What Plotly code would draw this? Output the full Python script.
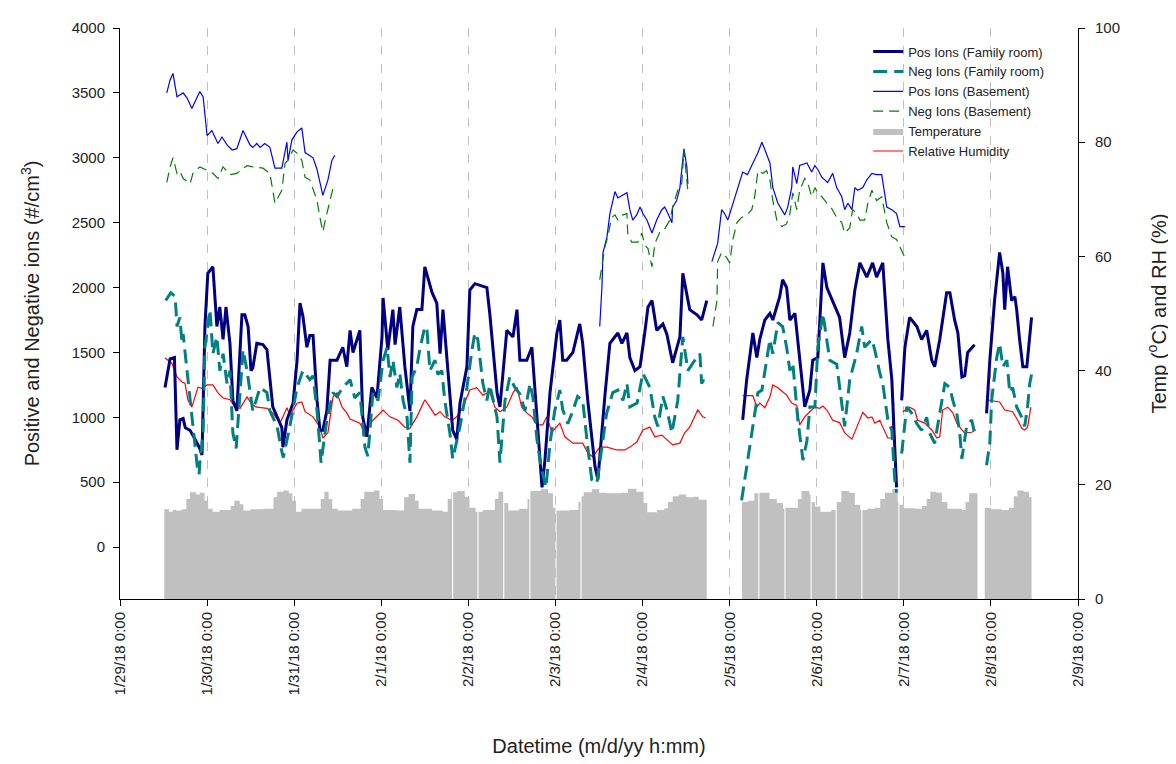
import plotly.graph_objects as go
import pandas as pd

START = pd.Timestamp("2018-01-29 00:00")

# ---------------- data (hours since 1/29/18 0:00, values; None = data gap) ----------------
pos_family_hours = [12.4,13.8,15.0,15.7,16.5,17.4,18.0,19.3,20.7,22.0,22.6,23.4,24.2,25.6,26.7,27.5,28.4,29.2,30.3,31.1,32.2,33.6,34.4,35.3,36.1,36.6,37.7,39.4,40.5,42.1,44.6,44.9,46.0,47.7,48.8,49.6,50.4,51.5,52.3,53.2,54.3,55.1,55.9,57.0,57.9,59.8,61.4,62.5,63.4,64.2,66.1,66.9,68.0,69.4,70.8,72.2,72.5,73.8,75.2,75.8,77.1,78.5,79.9,80.7,81.8,83.2,84.0,84.8,86.0,87.3,88.2,89.0,90.1,91.7,92.8,93.7,95.6,96.4,97.8,101.1,101.9,102.8,103.9,104.7,106.6,108.3,109.4,110.2,112.1,113.5,114.9,116.3,117.1,118.5,120.4,121.2,122.0,123.1,124.8,126.7,127.5,128.9,130.9,131.7,133.6,135.0,137.2,138.3,139.7,140.5,141.9,143.3,144.6,145.5,146.6,147.9,149.6,150.7,152.3,154.3,155.1,156.2,157.0,159.0,160.3,161.7,
                    166.0,
                    171.6,172.7,174.4,175.5,176.3,177.7,179.1,179.9,181.8,182.6,183.7,184.6,186.0,187.3,188.7,190.1,190.9,192.3,193.4,193.7,194.8,196.4,198.3,199.7,201.1,202.5,203.9,205.8,207.4,208.5,210.2,211.6,212.7,213.5,214.0,
                    214.7,
                    215.4,216.3,217.6,219.6,220.9,222.3,223.7,224.5,225.9,227.8,228.7,230.0,230.9,232.0,232.8,233.6,235.5,
                    237.0,
                    238.8,239.7,241.0,242.4,243.3,243.8,244.6,245.7,246.6,247.1,247.9,248.8,249.9,250.7,251.2]
pos_family_vals = [1230,1450,1460,750,980,990,920,900,830,760,710,1700,2110,2160,1700,1850,1600,1850,1570,1130,1050,1790,1790,1700,1360,1380,1570,1560,1520,1080,920,770,980,1110,1440,1880,1780,1540,1630,1630,1130,900,900,1050,1440,1440,1540,1390,1670,1500,1670,1000,850,1230,1150,1620,1920,1520,1830,1560,1850,1390,1050,1700,1830,1830,2160,2080,1960,1880,1490,1830,1460,900,830,1110,1390,1980,2030,2000,1800,1520,1190,1080,1670,1620,1830,1440,1440,1540,1000,460,670,1190,1650,1750,1440,1440,1500,1720,1570,1130,620,520,1160,1570,1650,1570,1650,1460,1360,1390,1650,1850,1900,1670,1720,1640,1420,1620,2110,1930,1830,1790,1750,1900,
                   None,
                   980,1290,1650,1460,1600,1750,1800,1750,1930,2060,2000,1750,1800,1460,1080,1210,1440,1460,2060,2190,2000,1900,1770,1460,1650,1980,2190,2080,2190,2080,2190,1600,1290,770,460,
                   None,
                   1130,1540,1770,1700,1600,1670,1440,1390,1600,1960,1960,1750,1650,1310,1320,1500,1560,
                   None,
                   1030,1440,1900,2270,2110,1830,2160,1900,1930,1830,1600,1390,1390,1600,1770]

neg_family_hours = [12.6,14.0,15.2,15.7,16.5,17.1,17.4,18.5,19.3,20.2,21.3,21.8,22.0,22.9,23.4,24.8,25.6,26.7,27.5,28.4,29.5,30.3,31.1,32.0,33.0,33.9,35.0,35.8,36.6,38.6,40.5,41.3,43.3,44.4,45.0,46.8,48.8,50.4,52.3,53.2,54.3,55.1,55.4,57.0,58.7,59.8,61.4,63.4,64.7,66.1,66.7,67.5,68.3,68.9,69.7,71.1,72.5,73.6,74.4,75.2,76.3,77.1,78.0,79.1,79.9,80.5,81.8,82.6,84.0,84.6,85.4,86.8,87.6,88.7,89.5,90.9,91.7,93.7,95.6,97.0,97.8,98.6,100.0,101.1,101.9,103.9,104.7,106.1,107.4,108.8,110.2,111.6,113.0,113.8,114.9,116.0,117.4,118.5,119.8,121.2,122.0,123.4,124.8,126.1,127.5,128.9,130.0,131.4,132.8,134.1,135.8,137.2,138.6,139.7,140.5,142.5,144.1,146.0,147.4,148.2,149.6,150.7,152.1,152.9,153.7,155.1,156.5,157.9,159.8,160.3,161.2,
                    166.0,
                    171.3,172.7,174.4,175.8,176.9,178.2,179.1,179.9,181.3,182.6,183.7,184.6,185.4,186.8,188.2,189.3,190.1,191.5,192.3,193.7,194.8,195.6,197.5,198.9,199.7,201.1,203.0,204.4,205.2,207.2,208.0,209.4,210.2,211.6,212.7,213.5,214.0,
                    214.7,
                    215.4,216.8,218.2,219.6,220.9,222.3,223.1,224.5,225.9,227.3,228.7,229.5,230.6,231.4,232.0,233.3,234.7,235.5,
                    237.0,
                    238.8,239.7,240.2,241.6,242.4,243.3,244.4,245.2,246.0,247.1,248.5,249.3,250.1,250.7,251.2]
neg_family_vals = [1900,1960,1930,1700,1770,1570,1640,1360,1110,880,620,560,650,880,1540,1830,1490,1620,1360,1490,1260,1360,880,760,1190,1520,1360,1190,1050,1230,1190,1050,930,760,690,930,1230,1360,1290,1320,1050,770,650,980,1190,1160,1230,1290,1150,1190,980,770,700,930,1190,1130,1440,1540,1310,1440,1230,1340,1130,1000,650,1310,1390,1520,1700,1670,1360,1440,1330,1360,1130,880,680,930,1230,1520,1650,1600,1260,1130,1250,1000,650,1130,1310,1230,1180,1050,1260,1150,830,620,460,800,1050,1210,1060,950,1050,1160,1130,770,520,490,750,1030,1190,1210,1130,1260,1080,1110,1340,1230,1000,930,1160,1060,880,1000,1130,1620,1360,1420,1490,1260,1310,
                   None,
                   360,620,930,1190,1210,1460,1600,1490,1730,1700,1540,1360,1420,980,670,820,1080,1080,1540,1800,1600,1440,1410,1080,930,1290,1490,1700,1540,1600,1520,1340,1260,980,900,520,420,
                   None,
                   720,1080,1030,950,900,1000,880,800,1030,1260,1230,1130,1030,880,680,930,980,880,
                   None,
                   630,800,1130,1460,1570,1390,1440,1190,1230,1080,1000,930,1080,1260,1330]

pos_base_hours = [12.9,13.8,14.6,15.7,17.4,18.5,19.8,20.7,22.0,22.9,24.0,25.3,26.2,27.0,28.1,29.5,30.9,32.2,33.9,35.8,36.6,37.7,38.6,39.9,41.3,42.7,44.6,46.0,46.3,47.4,48.8,50.1,51.0,52.3,53.2,54.3,55.9,57.3,58.4,59.2,
                  100.0,
                  132.2,132.8,133.1,134.2,135.0,136.4,137.2,138.3,139.7,140.5,141.3,142.4,143.3,144.1,145.2,146.6,147.9,149.3,150.1,151.0,152.1,152.3,153.4,154.3,155.4,156.2,156.5,
                  160.0,
                  163.1,164.7,165.8,166.6,167.5,168.9,170.2,171.6,172.9,174.4,175.8,176.9,177.7,179.1,179.9,181.3,183.2,184.0,185.1,185.4,186.5,187.3,189.3,190.6,191.5,192.3,193.4,195.0,196.4,197.5,198.9,199.7,200.6,201.7,202.5,203.3,204.7,205.8,207.2,208.5,209.9,211.3,212.7,214.0,214.9,216.3]
pos_base_vals = [3500,3600,3650,3470,3500,3460,3380,3430,3510,3470,3170,3210,3160,3110,3160,3100,3060,3070,3210,3100,3080,3110,3080,3110,3080,2920,2920,3120,2980,3140,3200,3230,3040,3020,3000,2910,2710,2830,2980,3020,
                 None,
                 1700,2000,2270,2390,2570,2740,2690,2710,2730,2600,2520,2560,2620,2570,2520,2420,2520,2600,2620,2570,2500,2620,2670,2770,3070,2930,2800,
                 None,
                 2200,2340,2600,2570,2520,2650,2770,2890,2870,2960,3040,3120,3060,2960,2770,2650,2560,2620,2770,2930,2800,2940,2960,2890,2940,2910,2850,2810,2880,2770,2700,2600,2650,2600,2770,2750,2770,2830,2880,2870,2870,2620,2600,2570,2470,2470]

neg_base_hours = [12.9,13.8,14.6,15.7,16.5,17.4,19.3,20.1,22.0,24.0,25.6,27.0,28.4,30.3,32.2,35.0,36.6,39.4,41.3,42.7,44.6,45.5,46.3,47.7,49.0,50.1,51.0,52.3,54.3,55.1,55.9,57.0,57.9,59.0,
                  100.0,
                  132.2,133.6,134.4,135.5,136.4,137.2,138.6,139.7,139.9,141.0,142.7,143.8,144.6,145.5,146.6,147.4,148.8,150.1,151.5,152.3,153.7,154.8,155.4,156.5,
                  160.0,
                  163.4,164.5,164.7,165.8,167.2,168.0,168.9,170.0,171.3,172.7,174.1,174.9,175.8,177.1,178.2,179.1,179.9,181.0,182.4,183.7,184.6,185.4,186.5,187.3,188.7,189.5,190.6,191.5,192.3,193.4,194.8,196.1,197.5,198.9,199.7,201.1,201.9,203.0,203.9,205.2,206.1,207.2,208.5,209.9,211.3,212.7,214.0,215.4,216.8]
neg_base_vals = [2810,2930,3000,2880,2900,2840,2800,2880,2930,2900,2880,2840,2930,2870,2880,2940,2930,2920,2880,2650,2750,2960,2980,3060,3030,2980,2850,2830,2670,2540,2430,2570,2670,2800,
                 None,
                 2060,2310,2390,2540,2560,2520,2560,2570,2420,2350,2350,2420,2330,2300,2160,2340,2430,2450,2520,2620,2750,2800,3060,2740,
                 None,
                 1700,1900,2200,2270,2230,2190,2370,2500,2540,2560,2600,2700,2900,2880,2900,2830,2670,2520,2470,2490,2570,2730,2600,2750,2840,2810,2700,2770,2730,2700,2650,2610,2540,2500,2420,2460,2600,2570,2520,2520,2650,2750,2670,2700,2500,2390,2370,2290,2200]

# temperature: value holds from its hour until the next entry; None marks the end of a run of bars
temp_hours = [12.2,13.5,14.5,15.5,17.0,18.3,19.3,21.0,22.0,23.3,24.3,25.5,27.5,30.5,31.5,33.0,34.0,36.0,39.5,42.3,43.3,45.0,46.5,47.5,48.5,50.0,54.0,55.3,56.3,57.5,58.5,60.0,64.0,66.3,67.3,70.0,71.5,72.5,76.0,78.3,79.5,81.3,82.3,86.0,89.0,90.3,91.3,
              91.6,
              91.8,93.0,95.0,96.3,98.0,
              98.6,
              98.8,100.0,103.3,104.3,
              105.7,
              105.9,107.0,110.0,112.3,
              112.9,
              113.1,116.0,118.0,119.3,
              120.1,
              120.3,124.0,126.3,
              127.0,
              127.2,127.8,130.0,132.0,134.0,138.0,140.0,142.3,144.3,145.3,148.0,150.0,151.0,152.3,154.0,156.0,158.0,159.5,
              161.8,
              171.4,173.0,174.8,
              176.0,
              176.2,177.0,179.0,181.0,182.7,
              183.2,
              183.4,186.8,187.8,190.0,
              190.4,
              190.6,191.5,193.0,196.0,
              197.3,
              197.5,198.8,201.0,202.5,204.0,
              204.4,
              204.6,206.0,208.0,209.5,210.8,212.8,214.3,
              214.6,
              214.8,216.0,219.0,221.0,222.3,223.3,225.0,226.5,228.0,232.0,233.0,234.0,
              236.4,
              238.3,240.0,243.0,245.0,246.3,247.3,249.0,250.5,
              251.3]
temp_vals = [15.7,15.3,15.6,15.5,15.7,17.5,18.7,18.3,18.6,17.2,15.8,15.3,15.6,16.3,17.2,16.6,15.5,15.7,15.8,17.8,18.8,19.0,18.5,17.2,15.3,15.8,15.8,17.5,18.8,17.5,15.8,15.5,15.8,17.5,18.8,19.0,17.5,15.6,15.5,17.8,18.4,17.2,15.8,15.5,15.3,17.5,18.7,
             None,
             18.7,18.9,17.9,16.0,15.3,
             None,
             15.3,15.6,17.5,18.8,
             None,
             16.8,15.5,15.8,17.5,
             None,
             18.9,19.2,18.5,16.0,
             None,
             15.5,15.6,17.0,
             None,
             18.0,18.7,19.2,18.6,18.5,18.6,19.3,18.8,16.8,15.2,15.6,15.9,17.0,18.0,18.3,17.8,17.9,17.4,
             None,
             17.0,17.2,18.5,
             None,
             18.6,18.6,17.5,16.8,15.8,
             None,
             16.0,17.5,18.9,18.3,
             None,
             17.0,16.2,15.3,15.6,
             None,
             17.0,18.9,18.6,16.5,15.6,
             None,
             15.6,15.8,16.0,17.5,18.6,19.2,17.0,
             None,
             16.5,15.9,15.8,16.3,17.5,18.8,18.6,17.0,15.8,15.6,17.0,18.5,
             None,
             16.0,15.7,15.6,16.0,18.0,19.0,18.8,17.8,
             None]

rh_hours = [12.4,14.3,15.7,17.1,17.9,18.7,19.8,20.7,21.5,22.6,24.0,25.6,27.0,28.4,30.3,31.7,33.1,35.0,36.4,37.7,40.5,42.1,44.1,44.9,46.0,46.8,48.8,50.1,51.0,53.2,55.1,55.9,57.3,58.7,59.8,61.2,62.5,63.4,66.1,67.5,68.0,69.7,72.5,74.4,76.6,78.5,79.9,81.8,84.0,85.4,86.8,88.2,89.5,91.5,92.8,94.5,96.4,98.3,100.0,101.9,103.3,104.7,106.6,108.3,109.4,110.7,112.1,113.5,114.9,116.5,117.6,119.0,120.4,121.2,122.6,124.8,127.5,128.9,130.3,132.2,134.2,136.9,139.1,140.5,142.4,144.1,146.0,147.4,149.3,151.0,152.3,154.3,155.6,157.0,158.4,159.2,160.6,161.4,
            166.0,
            171.6,174.4,175.5,176.3,177.7,179.1,179.9,181.3,182.6,183.7,185.1,186.5,187.3,188.7,190.1,191.5,192.8,193.7,194.8,196.4,198.3,199.7,201.7,203.0,204.7,206.1,207.2,208.0,209.4,210.2,211.6,212.7,213.2,
            214.5,
            215.7,217.6,219.0,219.8,221.8,223.7,225.1,225.9,226.7,228.1,229.5,230.6,232.0,232.8,234.7,235.8,
            237.3,
            238.8,242.4,243.8,246.0,247.4,248.5,249.3,250.1,251.0]
rh_vals = [42.2,41.3,38.9,38.0,37.8,34.9,33.6,35.4,37.1,36.9,37.5,37.5,36.1,35.2,34.9,33.6,33.4,35.4,34.0,33.6,33.4,32.6,30.8,31.9,33.5,32.2,34.3,34.5,32.8,31.9,30.1,28.2,29.1,35.4,36.1,33.6,32.6,31.5,30.8,29.1,30.1,31.3,33.1,31.9,31.3,30.1,29.9,31.9,34.9,33.6,32.2,32.8,31.9,31.3,31.9,33.6,36.6,37.0,35.7,36.3,33.6,32.8,33.6,36.1,37.1,33.6,32.6,31.9,30.5,30.5,31.9,29.2,30.1,30.8,28.4,27.3,27.3,25.6,24.9,26.6,26.6,26.1,26.1,26.6,27.5,29.6,30.1,28.4,28.7,27.8,27.0,27.3,29.1,30.1,31.9,33.1,31.9,31.7,
           None,
           35.6,35.6,33.6,34.3,33.5,35.4,37.5,37.0,36.3,35.7,34.3,33.9,30.5,31.9,32.8,33.6,33.4,33.8,33.1,31.3,30.9,29.1,28.0,30.1,32.7,31.7,31.9,30.8,31.3,30.1,28.2,28.2,34.3,
           None,
           32.8,33.6,33.1,31.3,30.8,29.6,28.2,28.4,33.1,33.6,32.6,30.8,29.6,29.1,29.2,29.6,
           None,
           34.9,34.5,33.1,32.8,31.3,29.9,29.6,30.1,33.6]

ion_ticks = [0, 500, 1000, 1500, 2000, 2500, 3000, 3500, 4000]
env_ticks = [0, 20, 40, 60, 80, 100]
x_range = ["2018-01-29 00:00", "2018-02-09 00:00"]


def to_time(hours):
    return [START + pd.Timedelta(hours=h) for h in hours]


def step_runs(hours, vals):
    """Split a stepped series into runs; each run's last step lasts until its end marker."""
    runs, cur = [], []
    for h, v in zip(hours, vals):
        if v is None:
            if cur:
                cur.append((h - 0.1, cur[-1][1]))
                runs.append(cur)
            cur = []
        else:
            cur.append((h, v))
    if cur:
        runs.append(cur)
    return runs


FONT = "Liberation Sans, Arial, sans-serif"

fig = go.Figure()
fig.add_trace(go.Scatter(x=to_time(pos_family_hours), y=pos_family_vals, name="Pos Ions (Family room)",
                         mode="lines", line=dict(color="#000080", width=3), yaxis="y2"))
fig.add_trace(go.Scatter(x=to_time(neg_family_hours), y=neg_family_vals, name="Neg Ions (Family room)",
                         mode="lines", line=dict(color="#008080", width=3, dash="14px,7px"), yaxis="y2"))
fig.add_trace(go.Scatter(x=to_time(pos_base_hours), y=pos_base_vals, name="Pos Ions (Basement)",
                         mode="lines", line=dict(color="#0000FF", width=1.2), yaxis="y2"))
fig.add_trace(go.Scatter(x=to_time(neg_base_hours), y=neg_base_vals, name="Neg Ions (Basement)",
                         mode="lines", line=dict(color="#008000", width=1.2, dash="10px,6px"), yaxis="y2"))
for i, run in enumerate(step_runs(temp_hours, temp_vals)):
    fig.add_trace(go.Scatter(x=to_time([p[0] for p in run]), y=[p[1] for p in run], name="Temperature",
                             mode="lines", line=dict(color="#C0C0C0", width=0, shape="hv"),
                             fill="tozeroy", fillcolor="#C0C0C0", yaxis="y",
                             legendgroup="temp", showlegend=(i == 0)))
fig.add_trace(go.Scatter(x=to_time(rh_hours), y=rh_vals, name="Relative Humidity",
                         mode="lines", line=dict(color="#FF0000", width=1.2), yaxis="y"))

fig.update_layout(
    width=1168, height=756,
    margin=dict(l=112, r=98, t=20, b=165),
    plot_bgcolor="white", paper_bgcolor="white",
    font=dict(family=FONT, size=15, color="#222222"),
    showlegend=True,
    legend=dict(x=0.781, y=0.985, xanchor="left", yanchor="top",
                bgcolor="rgba(0,0,0,0)", font=dict(size=13, color="#222222"),
                tracegroupgap=0),
    xaxis=dict(type="date", range=x_range, tick0="2018-01-29", dtick=86400000,
               tickformat="%-m/%-d/%y %-H:%M", tickangle=-90, automargin=False,
               showgrid=True, gridcolor="#BFBFBF", griddash="dash", gridwidth=1,
               showline=True, linecolor="black", linewidth=1,
               ticks="outside", ticklen=6, tickcolor="black", zeroline=False,
               title=dict(text="Datetime (m/d/yy h:mm)", font=dict(size=20), standoff=44)),
    yaxis=dict(side="right", range=[0, 100], tickvals=env_ticks, automargin=False,
               showgrid=False, zeroline=False, showline=True, linecolor="black", linewidth=1,
               ticks="outside", ticklen=6, tickcolor="black", ticklabelstandoff=7,
               title=dict(text="Temp (<sup>o</sup>C) and RH (%)", font=dict(size=20), standoff=32)),
    yaxis2=dict(overlaying="y", side="left", anchor="x", range=[-400, 4000], tickvals=ion_ticks,
                automargin=False, ticklabelstandoff=5,
                showgrid=False, zeroline=False, showline=True, linecolor="black", linewidth=1,
                ticks="outside", ticklen=6, tickcolor="black",
                title=dict(text="Positive and Negative ions (#/cm<sup>3</sup>)", font=dict(size=20), standoff=26)),
)

fig.write_html("out.html")
